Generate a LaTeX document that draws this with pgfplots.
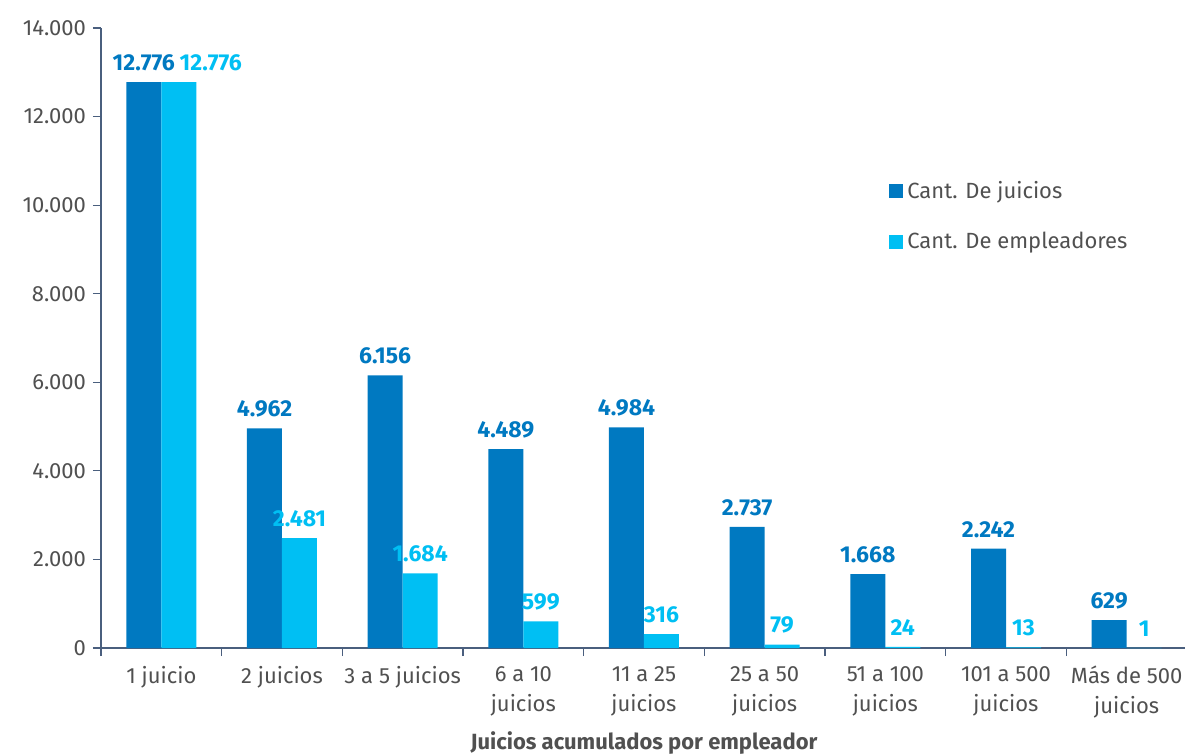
\documentclass[border=0pt]{standalone}
\usepackage{pgfplots}
\pgfplotsset{compat=1.18}
\usepackage{fontspec}
\setmainfont{Fira Sans}
\definecolor{dark}{HTML}{0079C1}
\definecolor{light}{HTML}{00BFF3}
\definecolor{axisc}{HTML}{4A5F7E}
\definecolor{txt}{HTML}{505050}
\begin{document}
\begin{tikzpicture}
\begin{axis}[
  scale only axis,
  width=543pt, height=310pt,
  ybar, bar width=17.5pt, ybar=0pt,
  xmin=-0.5, xmax=8.5,
  ymin=0, ymax=14000,
  ytick={0,2000,...,14000},
  scaled y ticks=false,
  xtick={0,...,8},
  xticklabels={1 juicio, 2 juicios, 3 a 5 juicios, 6 a 10\\juicios, 11 a 25\\juicios, 25 a 50\\juicios, 51 a 100\\juicios, 101 a 500\\juicios, Más de 500\\juicios},
  xticklabel style={align=center, font=\fontsize{11}{15}\selectfont, text=txt, yshift=-1.5pt},
  yticklabel style={font=\fontsize{11}{13}\selectfont, text=txt, /pgf/number format/fixed},
  minor xtick={-0.5,0.5,...,8.5},
  major x tick style={draw=none},
  tick style={axisc, line width=0.6pt},
  minor tick length=4pt, major tick length=4pt,
  tick align=outside,
  axis lines*=left,
  axis line style={axisc, line width=0.6pt},
  y axis line style={-}, x axis line style={-},
  /pgf/number format/1000 sep={.},
  /pgf/number format/assume math mode=true,
  xlabel={\textbf{Juicios acumulados por empleador}},
  xlabel style={font=\fontsize{11}{13}\selectfont, text=txt, yshift=0pt},
  nodes near coords,
  nodes near coords style={font=\fontsize{11.5}{13}\selectfont\bfseries, yshift=2pt},
  legend style={draw=none, fill=none, at={(0.72,0.767)}, anchor=north west,
    font=\fontsize{11}{13}\selectfont, text=txt, row sep=11.5pt},
  legend image code/.code={\fill[#1] (0pt,-3.5pt) rectangle (7pt,3.5pt);},
  legend cell align=left,
]
\addplot[fill=dark, draw=none, nodes near coords style={text=dark}] coordinates {
  (0,12776)(1,4962)(2,6156)(3,4489)(4,4984)(5,2737)(6,1668)(7,2242)(8,629)
};
\addlegendentry{Cant. De juicios}
\addplot[fill=light, draw=none, nodes near coords style={text=light},
  coordinate style/.condition={x<0.5}{xshift=16pt}] coordinates {
  (0,12776)(1,2481)(2,1684)(3,599)(4,316)(5,79)(6,24)(7,13)(8,1)
};
\addlegendentry{Cant. De empleadores}
\end{axis}
\pgfresetboundingbox
\useasboundingbox ([xshift=-50.5pt,yshift=-54pt]current axis.south west) rectangle ([xshift=-1pt,yshift=14pt]current axis.north east);
\end{tikzpicture}
\end{document}
